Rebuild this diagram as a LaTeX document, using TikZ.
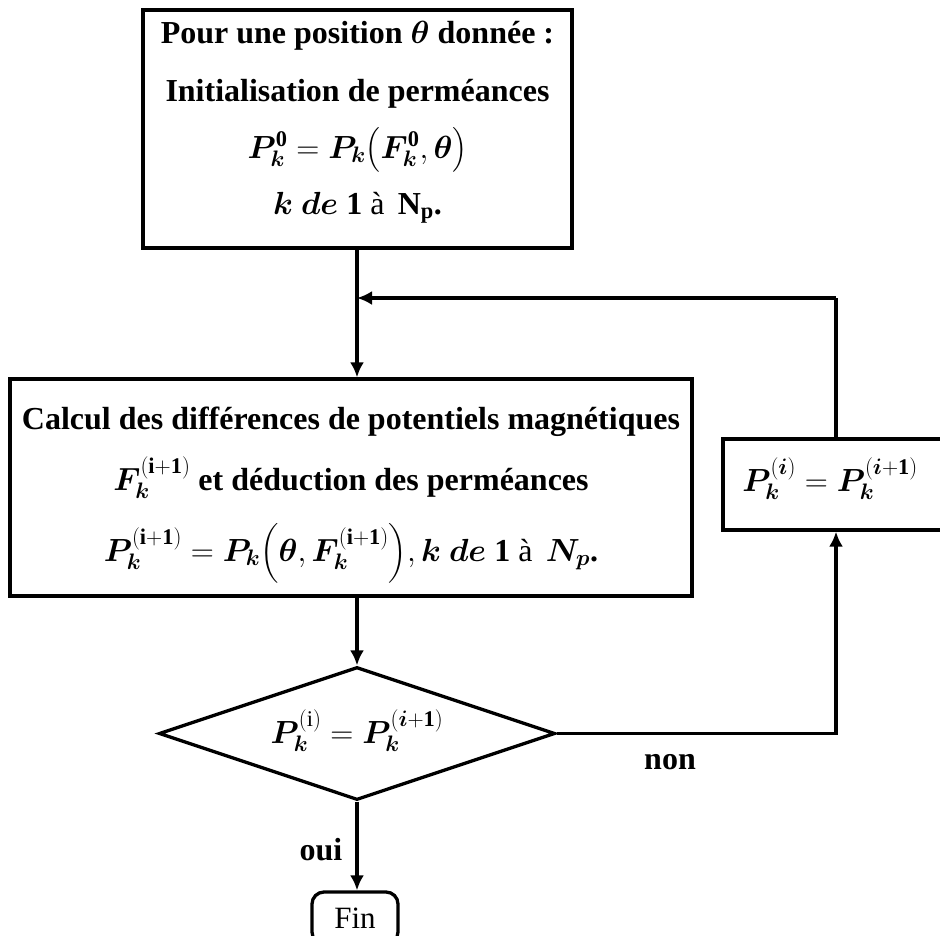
\documentclass[tikz,border=0pt]{standalone}
\usepackage{fix-cm}
\usepackage{amsmath}
\usepackage{fontspec}
\setmainfont{Liberation Serif}
\usepackage{bm}
\usetikzlibrary{arrows.meta,shapes.geometric}
\tikzset{
  box/.style={draw, line width=3.3pt, rectangle, inner sep=0pt},
  txt/.style={font=\fontsize{32}{38}\selectfont\bfseries, anchor=base, inner sep=0pt},
  conn/.style={line width=3.2pt, -{Latex[length=15pt,width=14pt]}},
  plain/.style={line width=3.2pt},
}
\begin{document}
\begin{tikzpicture}[x=1pt,y=-1pt]
\useasboundingbox (0,0) rectangle (940,935);
% top box
\node[box, minimum width=429pt, minimum height=238pt] (top) at (357.5,129) {};
\node[txt] (t1) at (357.5,43) {Pour une position $\bm\theta$ donnée :};
\node[txt] (t2) at (357.5,101) {Initialisation de perméances};
\node[txt] (t3) at (357.5,158) {$\bm{P}_{\bm k}^{\mathbf 0} = \bm{P}_{\bm k}\bigl(\bm F_{\bm k}^{\mathbf 0}, \bm\theta\bigr)$};
\node[txt] (t4) at (357.5,214) {$\bm{k}\ \bm{de}\ \mathbf{1}$ {\mdseries à} \,$\mathbf{N_p}$.};

% middle box
\node[box, minimum width=682pt, minimum height=217pt] (mid) at (351,487.5) {};
\node[txt] (m1) at (351,429) {Calcul des différences de potentiels magnétiques};
\node[txt] (m2) at (351,490) {$\bm F_{\bm k}^{(\mathbf{i+1})}$ et déduction des perméances};
\node[txt] (m3) at (351,561) {$\bm{P}_{\bm k}^{(\mathbf{i+1})} = \bm{P}_{\bm k}\Bigl(\bm\theta, \bm F_{\bm k}^{(\mathbf{i+1})}\Bigr), \bm{k}\ \bm{de}\ \mathbf{1}$ {\mdseries à} \,$\bm{N}_{\bm p}$.};

% right box
\node[box, minimum width=226pt, minimum height=91pt] (rb) at (836,484.5) {};
\node[txt] (rbtxt) at (830,491) {$\bm{P}_{\bm k}^{(\bm i)} = \bm{P}_{\bm k}^{(\bm{i}+\mathbf 1)}$};

% decision
\node[draw, diamond, line width=3.3pt, minimum width=396pt, minimum height=133pt, inner sep=0pt] (dia) at (357,733.5) {};
\node[txt] (diatxt) at (357,743) {$\bm{P}_{\bm k}^{(\mathrm{i})} = \bm{P}_{\bm k}^{(\bm{i}+\mathbf 1)}$};

% end
\node[draw, line width=3.3pt, rounded corners=12pt, minimum width=86pt, minimum height=52pt, inner sep=0pt] (fin) at (355,918) {};
\node[font=\fontsize{31}{36}\selectfont, inner sep=0pt, anchor=base] (fintxt) at (355,928) {Fin};

% labels
\node[txt] (non) at (670,769) {non};
\node[txt] (oui) at (321,860) {oui};

% connectors
\coordinate (J) at (357,298);
\coordinate (fbx) at (836,298);
\draw[conn] (top.south -| J) -- (mid.north -| J);
\draw[plain] (fbx |- rb.north) -- (fbx);
\draw[conn] (fbx) -- (J);
\draw[conn] (mid.south -| J) -- (dia.north);
\draw[conn] (dia.east) -| (fbx |- rb.south);
\draw[conn] (dia.south) -- (dia.south |- fin.north);
\end{tikzpicture}
\end{document}
